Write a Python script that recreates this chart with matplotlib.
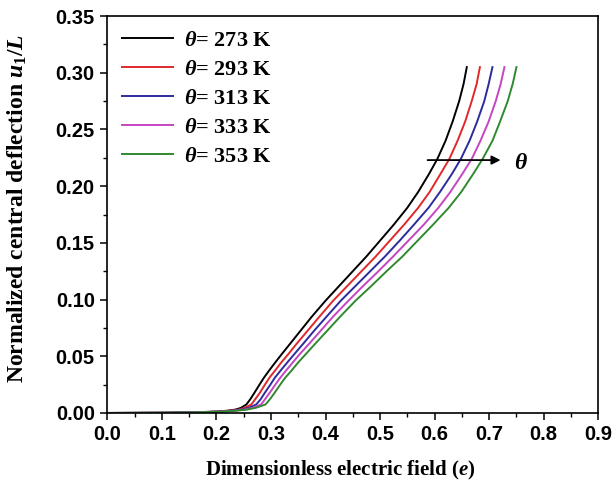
import matplotlib
matplotlib.use("Agg")
import matplotlib.pyplot as plt
from matplotlib.ticker import MultipleLocator

plt.rcParams['mathtext.fontset'] = 'custom'
plt.rcParams['mathtext.rm'] = 'Liberation Serif:bold'
plt.rcParams['mathtext.it'] = 'Liberation Serif:bold:italic'
plt.rcParams['mathtext.bf'] = 'Liberation Serif:bold'

# normalized central deflection (shared by all curves)
u = [0, 0.0002, 0.0005, 0.0012, 0.002, 0.003, 0.0045, 0.0075, 0.012, 0.018, 0.025,
     0.031, 0.037, 0.044, 0.052, 0.061, 0.073, 0.085, 0.099, 0.112, 0.125, 0.138,
     0.152, 0.166, 0.181, 0.195, 0.211, 0.224, 0.240, 0.257, 0.275, 0.290, 0.305]

# electric field for each temperature
e_273 = [0, 0.10, 0.150, 0.200, 0.220, 0.235, 0.245, 0.255, 0.262, 0.270, 0.279,
         0.287, 0.296, 0.307, 0.320, 0.335, 0.355, 0.375, 0.400, 0.425, 0.450, 0.475,
         0.500, 0.525, 0.550, 0.570, 0.590, 0.605, 0.620, 0.633, 0.645, 0.653, 0.659]
e_293 = [0, 0.10, 0.152, 0.203, 0.224, 0.241, 0.252, 0.264, 0.271, 0.280, 0.289,
         0.297, 0.307, 0.318, 0.332, 0.347, 0.368, 0.389, 0.414, 0.440, 0.466, 0.492,
         0.518, 0.544, 0.570, 0.591, 0.611, 0.627, 0.642, 0.656, 0.668, 0.677, 0.683]
e_313 = [0, 0.10, 0.154, 0.206, 0.228, 0.246, 0.259, 0.273, 0.281, 0.289, 0.299,
         0.307, 0.317, 0.329, 0.343, 0.359, 0.380, 0.402, 0.428, 0.455, 0.482, 0.509,
         0.536, 0.562, 0.589, 0.610, 0.632, 0.648, 0.664, 0.678, 0.691, 0.699, 0.706]
e_333 = [0, 0.10, 0.156, 0.209, 0.232, 0.251, 0.266, 0.282, 0.289, 0.298, 0.308,
         0.317, 0.327, 0.339, 0.353, 0.370, 0.392, 0.414, 0.442, 0.469, 0.497, 0.524,
         0.552, 0.580, 0.607, 0.629, 0.651, 0.668, 0.684, 0.699, 0.712, 0.721, 0.728]
e_353 = [0, 0.10, 0.158, 0.212, 0.236, 0.256, 0.272, 0.290, 0.298, 0.307, 0.317,
         0.326, 0.337, 0.349, 0.364, 0.381, 0.404, 0.427, 0.455, 0.484, 0.512, 0.541,
         0.569, 0.597, 0.626, 0.649, 0.671, 0.688, 0.706, 0.720, 0.734, 0.743, 0.750]

labels = [r'$\theta$= 273 K', r'$\theta$= 293 K', r'$\theta$= 313 K',
          r'$\theta$= 333 K', r'$\theta$= 353 K']
colors = ['black', '#e0282a', '#2b2b9e', '#c545c0', '#2f8a2f']

fig = plt.figure(figsize=(6.13, 4.87), dpi=100)
ax = fig.add_axes([0.175, 0.152, 0.801, 0.815])

for e, lab, c in zip([e_273, e_293, e_313, e_333, e_353], labels, colors):
    ax.plot(e, u, color=c, lw=1.4, label=lab)

ax.set_xlim(0, 0.9)
ax.set_ylim(0, 0.35)
ax.xaxis.set_major_locator(MultipleLocator(0.1))
ax.xaxis.set_minor_locator(MultipleLocator(0.05))
ax.yaxis.set_major_locator(MultipleLocator(0.05))
ax.yaxis.set_minor_locator(MultipleLocator(0.025))
ax.tick_params(which='major', direction='out', length=5, width=1.1, pad=4)
ax.tick_params(which='minor', direction='out', length=3, width=1.0)
for s in ax.spines.values():
    s.set_linewidth(1.2)

ax.set_xticklabels(['%.1f' % v for v in ax.get_xticks()])
ax.set_yticklabels(['%.2f' % v for v in ax.get_yticks()])
for t in ax.get_xticklabels() + ax.get_yticklabels():
    t.set_fontfamily('Liberation Sans')
    t.set_fontweight('bold')
    t.set_fontsize(14.5)

ax.set_xlabel(r'Dimensionless electric field ($e$)', family='Liberation Serif',
              fontweight='bold', fontsize=15)
ax.set_ylabel(r'Normalized central deflection $u_1/L$', family='Liberation Serif',
              fontweight='bold', fontsize=17)
ax.xaxis.set_label_coords(0.474, -0.115)
ax.yaxis.set_label_coords(-0.16, 0.515)

leg = ax.legend(loc='upper left', frameon=False, handlelength=2.3,
                prop={'family': 'Liberation Serif', 'weight': 'bold', 'size': 16},
                labelspacing=0.38, borderaxespad=0.25, handletextpad=0.5,
                bbox_to_anchor=(0.0, 1.0))

# arrow showing increasing temperature
ax.annotate('', xy=(0.726, 0.223), xytext=(0.582, 0.223),
            arrowprops=dict(arrowstyle='-|>', color='black', lw=1.3, mutation_scale=13))
ax.text(0.745, 0.221, r'$\theta$', fontsize=17, va='center', ha='left')

fig.savefig('out.png', dpi=100)
